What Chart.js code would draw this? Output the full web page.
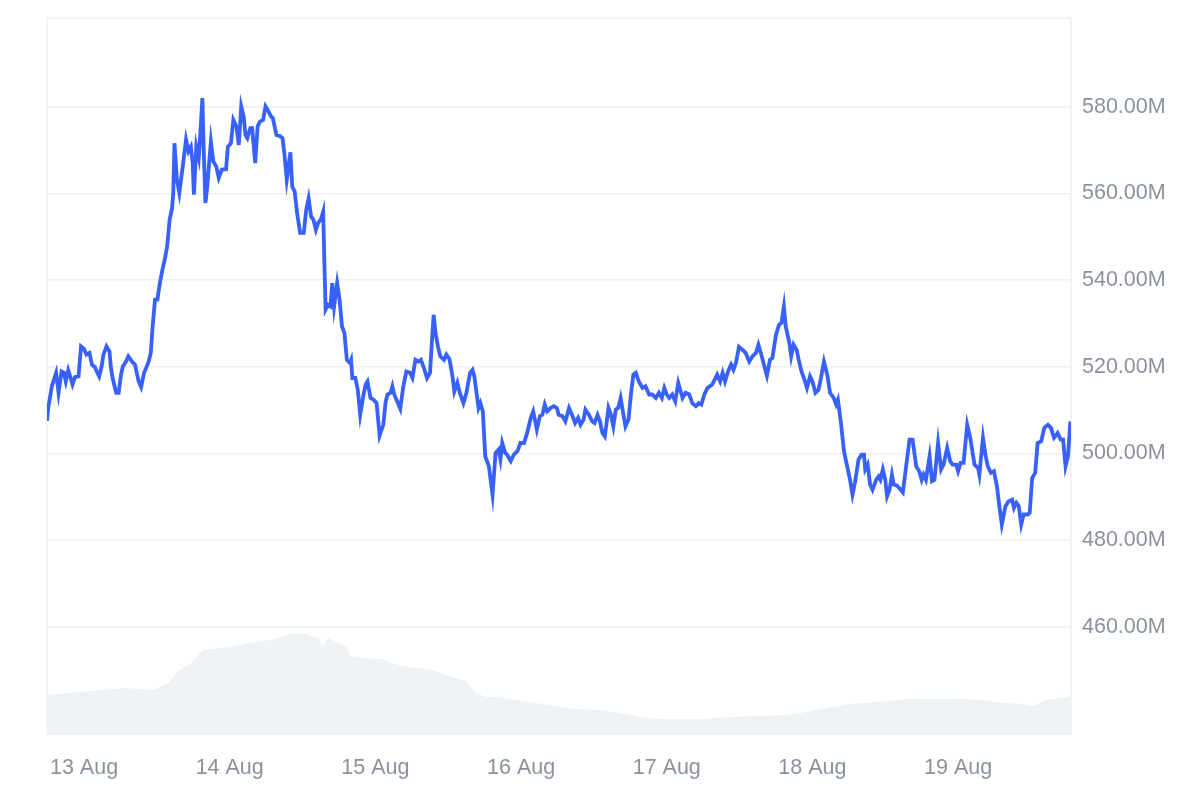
<!DOCTYPE html>
<html>
<head>
<meta charset="utf-8">
<script src="https://cdn.jsdelivr.net/npm/chart.js@4.4.1/dist/chart.umd.min.js"></script>
<style>
  html, body { margin: 0; padding: 0; background: #fff; }
  canvas { display: block; }
</style>
</head>
<body>
<canvas id="chart" width="1200" height="800"></canvas>
<script>
// hours since 13 Aug 00:00
const priceTimes = [
  -6.1, -5.9, -5.3, -4.6, -4.2, -3.7, -3.3, -3.0, -2.6, -2.2, -1.9, -1.5, -0.9, -0.5, 0.0, 0.4, 0.9, 1.3, 1.8, 2.1,
  2.5, 2.9, 3.2, 3.7, 4.2, 4.4, 4.7, 5.3, 5.7, 6.1, 6.4, 6.8, 7.3, 7.9, 8.4, 9.0, 9.4, 9.9, 10.6, 11.0,
  11.3, 11.7, 12.1, 12.4, 12.8, 13.4, 13.7, 14.1, 14.5, 14.7, 14.9, 15.3, 15.7, 16.3, 16.8, 17.2, 17.6, 17.9, 18.1, 18.5,
  18.9, 19.1, 19.5, 19.7, 20.0, 20.3, 20.9, 21.3, 21.8, 22.2, 22.7, 23.4, 23.7, 24.2, 24.6, 25.1, 25.5, 25.9, 26.3, 26.6,
  26.9, 27.4, 27.7, 28.2, 28.6, 29.0, 29.5, 29.9, 30.4, 30.8, 31.1, 31.7, 32.2, 32.7, 33.0, 33.4, 34.0, 34.3, 34.7, 35.1,
  35.6, 36.2, 36.6, 37.0, 37.4, 37.8, 38.2, 38.6, 39.0, 39.4, 39.6, 39.8, 40.2, 40.6, 40.9, 41.2, 41.7, 42.1, 42.5, 42.9,
  43.3, 43.8, 44.0, 44.2, 44.7, 45.1, 45.5, 46.0, 46.4, 46.7, 47.2, 47.7, 48.2, 48.7, 49.3, 49.7, 50.0, 50.5, 50.8, 51.1,
  51.6, 52.1, 52.6, 53.1, 53.7, 54.1, 54.6, 55.1, 55.5, 56.0, 56.5, 57.0, 57.4, 57.6, 57.9, 58.3, 58.7, 59.3, 59.7, 60.2,
  60.7, 61.0, 61.5, 61.9, 62.5, 63.0, 63.6, 64.0, 64.3, 65.0, 65.3, 65.7, 66.1, 66.7, 67.3, 67.8, 68.3, 68.6, 68.9, 69.4,
  69.7, 70.3, 70.8, 71.4, 71.9, 72.5, 73.0, 73.6, 74.0, 74.6, 75.1, 75.5, 75.9, 76.3, 76.9, 77.4, 77.9, 78.2, 78.8, 79.3,
  79.9, 80.4, 80.9, 81.4, 81.8, 82.3, 82.6, 83.2, 83.7, 84.1, 84.6, 85.0, 85.4, 85.8, 86.4, 86.8, 87.2, 87.6, 88.0, 88.4,
  88.9, 89.2, 89.7, 90.1, 90.5, 90.9, 91.4, 92.0, 92.5, 93.1, 93.6, 94.2, 94.7, 95.2, 95.6, 96.0, 96.4, 96.9, 97.4, 97.9,
  98.6, 99.1, 99.7, 100.2, 100.8, 101.3, 101.7, 102.2, 102.7, 103.5, 104.3, 104.8, 105.2, 105.6, 106.1, 106.6, 107.0, 107.4, 107.9, 108.5,
  109.0, 109.6, 110.1, 110.7, 111.1, 111.5, 112.0, 112.5, 113.0, 113.4, 114.0, 114.5, 114.9, 115.3, 115.6, 116.2, 116.5, 116.9, 117.4, 117.8,
  118.2, 118.6, 119.1, 119.6, 120.0, 120.5, 121.0, 121.4, 121.9, 122.5, 122.9, 123.5, 123.9, 124.2, 124.7, 125.2, 125.6, 126.2, 126.6, 127.0,
  127.6, 128.1, 128.5, 128.7, 129.1, 129.5, 129.9, 130.5, 130.9, 131.2, 131.6, 132.0, 132.3, 132.7, 133.1, 133.4, 133.9, 134.3, 134.9, 135.4,
  136.0, 136.5, 137.1, 137.6, 138.0, 138.3, 138.7, 139.3, 139.7, 140.1, 140.7, 141.2, 141.6, 142.2, 142.7, 143.1, 143.7, 144.0, 144.4, 144.9,
  145.5, 146.0, 146.7, 147.3, 147.5, 148.1, 148.5, 148.9, 149.4, 149.9, 150.4, 150.8, 151.2, 151.8, 152.3, 152.9, 153.2, 153.6, 154.0, 154.4,
  154.8, 155.5, 155.8, 156.2, 156.7, 157.1, 157.7, 158.2, 158.8, 159.3, 159.8, 160.2, 160.4, 160.9, 161.3, 161.7, 162.1, 162.5
];

// market cap, millions USD
const marketCap = [
  507.5, 510.5, 515.5, 518.6, 514.0, 518.9, 518.6, 516.6, 519.2, 517.4, 515.9, 517.6, 517.8, 524.7, 524.1, 522.8, 523.2, 520.5, 519.9, 518.9,
  517.8, 520.1, 522.8, 524.7, 523.5, 520.1, 517.4, 514.0, 514.0, 518.2, 520.1, 520.9, 522.4, 521.2, 520.5, 516.6, 515.3, 518.6, 521.0, 523.2,
  529.3, 535.5, 535.5, 538.5, 541.6, 545.5, 547.8, 553.9, 556.6, 560.1, 571.6, 563.2, 560.1, 566.6, 572.4, 569.7, 570.8, 567.0, 559.7, 570.8,
  568.2, 572.4, 582.0, 570.8, 557.8, 561.6, 572.0, 567.4, 566.2, 563.6, 565.5, 565.6, 570.8, 571.6, 577.0, 575.5, 571.2, 580.1, 577.8, 573.5,
  572.8, 575.1, 575.1, 567.0, 575.5, 576.6, 577.0, 580.1, 578.9, 577.8, 577.4, 573.5, 573.3, 572.8, 569.3, 563.2, 569.5, 561.6, 560.5, 555.5,
  550.9, 550.9, 556.2, 558.9, 554.7, 553.9, 551.6, 553.3, 553.9, 555.8, 543.9, 533.2, 534.3, 533.9, 539.3, 533.9, 539.3, 535.5, 529.3, 527.8,
  521.6, 520.9, 521.6, 517.4, 517.4, 514.7, 508.9, 513.2, 515.9, 516.6, 512.8, 512.4, 511.6, 504.1, 506.6, 512.0, 513.6, 514.0, 515.5, 513.6,
  512.0, 510.3, 515.5, 518.9, 518.6, 517.4, 521.6, 521.2, 521.6, 519.7, 517.4, 518.6, 527.8, 532.0, 527.8, 524.7, 522.4, 521.6, 522.8, 521.8,
  517.8, 514.3, 516.3, 514.0, 511.6, 514.0, 518.6, 519.3, 517.8, 510.5, 511.6, 509.7, 499.3, 497.0, 490.5, 500.1, 500.9, 498.6, 502.4, 500.1,
  499.7, 498.2, 499.7, 500.5, 502.4, 502.4, 504.7, 508.2, 509.7, 505.5, 508.6, 508.9, 511.3, 509.7, 510.5, 510.9, 510.5, 508.9, 508.6, 507.4,
  510.5, 508.9, 507.0, 508.2, 506.6, 507.8, 510.1, 508.9, 507.4, 507.0, 508.9, 507.4, 504.7, 503.9, 510.5, 508.9, 506.2, 510.1, 510.5, 512.8,
  508.6, 506.2, 507.8, 513.6, 518.2, 518.6, 516.6, 515.1, 515.5, 513.6, 513.6, 512.8, 514.0, 512.8, 515.1, 513.6, 512.8, 513.6, 512.0, 516.3,
  512.8, 514.0, 513.6, 511.6, 510.9, 511.6, 511.3, 513.6, 515.1, 515.9, 518.2, 516.6, 518.6, 516.6, 518.9, 520.5, 519.3, 520.9, 524.6, 523.9,
  523.2, 521.2, 522.4, 523.2, 525.1, 523.2, 520.5, 517.9, 521.6, 522.0, 527.4, 529.7, 530.1, 533.9, 529.3, 525.5, 522.4, 525.1, 523.9, 521.2,
  518.9, 517.4, 515.1, 517.8, 516.6, 514.0, 514.7, 517.4, 521.2, 517.8, 514.0, 512.8, 511.3, 512.4, 507.0, 500.5, 497.8, 493.9, 490.5, 493.2,
  498.6, 499.7, 499.7, 496.3, 497.4, 492.8, 491.6, 493.9, 494.7, 493.9, 496.3, 493.9, 490.1, 491.6, 495.1, 492.8, 492.6, 492.0, 491.0, 496.6,
  503.2, 503.2, 497.0, 495.9, 493.9, 495.1, 493.9, 499.3, 493.6, 493.9, 502.4, 496.3, 497.4, 501.3, 498.2, 497.4, 497.4, 495.9, 497.8, 497.8,
  506.6, 503.6, 497.4, 496.6, 495.1, 503.6, 499.7, 497.0, 495.5, 495.9, 492.4, 487.8, 483.6, 487.8, 488.9, 489.3, 487.4, 488.6, 487.8, 483.6,
  485.9, 485.9, 486.3, 494.3, 495.5, 502.4, 502.8, 505.9, 506.6, 505.9, 503.6, 504.3, 504.7, 503.2, 503.2, 497.0, 499.3, 507.4
];

// trading volume, millions USD
const volumeTimes = [
  -6.1, -2.5, 4.5, 6.9, 11.4, 13.9, 15.5, 17.7, 19.6, 24.1, 27.2, 31.7, 34.1, 36.6, 38.6, 39.4, 40.1, 41.7, 43.2, 43.9,
  46.2, 49.3, 50.0, 52.5, 57.4, 60.1, 62.9, 64.5, 66.3, 68.3, 73.3, 77.7, 80.9, 85.1, 88.3, 91.4, 94.5, 102.1, 104.1, 110.4,
  115.5, 118.0, 123.1, 126.2, 130.7, 135.6, 138.8, 145.2, 148.3, 151.5, 154.6, 156.4, 158.4, 160.9, 162.6
];
const volume = [
  16.7, 17.6, 19.2, 19.7, 18.8, 21.8, 26.8, 30.1, 35.6, 36.8, 38.5, 40.2, 42.3, 42.3, 40.6, 36.8, 40.6, 38.9, 36.8, 33.1,
  32.2, 31.8, 30.5, 28.9, 27.2, 24.7, 22.6, 17.6, 15.9, 15.9, 13.8, 12.1, 10.9, 10.5, 9.2, 7.5, 6.7, 6.7, 7.1, 7.9,
  8.4, 9.2, 11.7, 13.0, 13.8, 15.1, 15.1, 15.1, 14.6, 13.4, 13.0, 12.1, 14.6, 15.5, 16.3
];

const dayLabels = ['13 Aug', '14 Aug', '15 Aug', '16 Aug', '17 Aug', '18 Aug', '19 Aug'];
const yTicks = [460, 480, 500, 520, 540, 560, 580];

const textColor = '#8a919e';
const lineColor = '#eef0f3';

const frame = {
  id: 'frame',
  beforeDatasetsDraw(chart) {
    const { ctx, chartArea: a } = chart;
    ctx.save();
    ctx.strokeStyle = lineColor;
    ctx.lineWidth = 1.5;
    ctx.beginPath();
    ctx.moveTo(a.left, a.bottom);
    ctx.lineTo(a.left, a.top);
    ctx.lineTo(a.right, a.top);
    ctx.lineTo(a.right, a.bottom);
    ctx.stroke();
    ctx.restore();
  }
};

new Chart(document.getElementById('chart'), {
  type: 'line',
  data: {
    datasets: [
      {
        label: 'Market Cap',
        data: priceTimes.map((t, i) => ({ x: t, y: marketCap[i] })),
        borderColor: '#3861fb',
        borderWidth: 3.8,
        pointRadius: 0,
        tension: 0,
        fill: false,
        yAxisID: 'y'
      },
      {
        label: 'Volume',
        data: volumeTimes.map((t, i) => ({ x: t, y: volume[i] })),
        borderWidth: 0,
        backgroundColor: '#eff2f5',
        pointRadius: 0,
        tension: 0,
        fill: 'origin',
        yAxisID: 'vol'
      }
    ]
  },
  options: {
    responsive: false,
    devicePixelRatio: 1,
    animation: false,
    layout: { padding: { left: 47, top: 18, right: 0, bottom: 0 } },
    plugins: { legend: { display: false }, tooltip: { enabled: false } },
    scales: {
      x: {
        type: 'linear',
        min: -6.1,
        max: 162.6,
        grid: { display: false },
        border: { display: false },
        afterBuildTicks: (scale) => {
          scale.ticks = dayLabels.map((_, i) => ({ value: i * 24 }));
        },
        afterFit: (scale) => {
          scale.height = 65;
          scale.paddingLeft = 0;
          scale.paddingRight = 0;
        },
        ticks: {
          padding: 12,
          autoSkip: false,
          maxRotation: 0,
          color: textColor,
          font: { family: 'Liberation Sans', size: 21.5 },
          callback: (v) => dayLabels[Math.round(v / 24)]
        }
      },
      y: {
        position: 'right',
        min: 435,
        max: 600.5,
        afterBuildTicks: (scale) => {
          scale.ticks = yTicks.map(v => ({ value: v }));
        },
        afterFit: (scale) => {
          scale.width = 129;
          scale.paddingTop = 0;
          scale.paddingBottom = 0;
        },
        grid: { color: lineColor, lineWidth: 1.5, drawTicks: false },
        border: { display: false },
        ticks: {
          padding: 11,
          color: textColor,
          font: { family: 'Liberation Sans', size: 21.5 },
          callback: (v) => v.toFixed(2) + 'M'
        }
      },
      vol: {
        display: false,
        min: 0,
        max: 300
      }
    }
  },
  plugins: [frame]
});
</script>
</body>
</html>
